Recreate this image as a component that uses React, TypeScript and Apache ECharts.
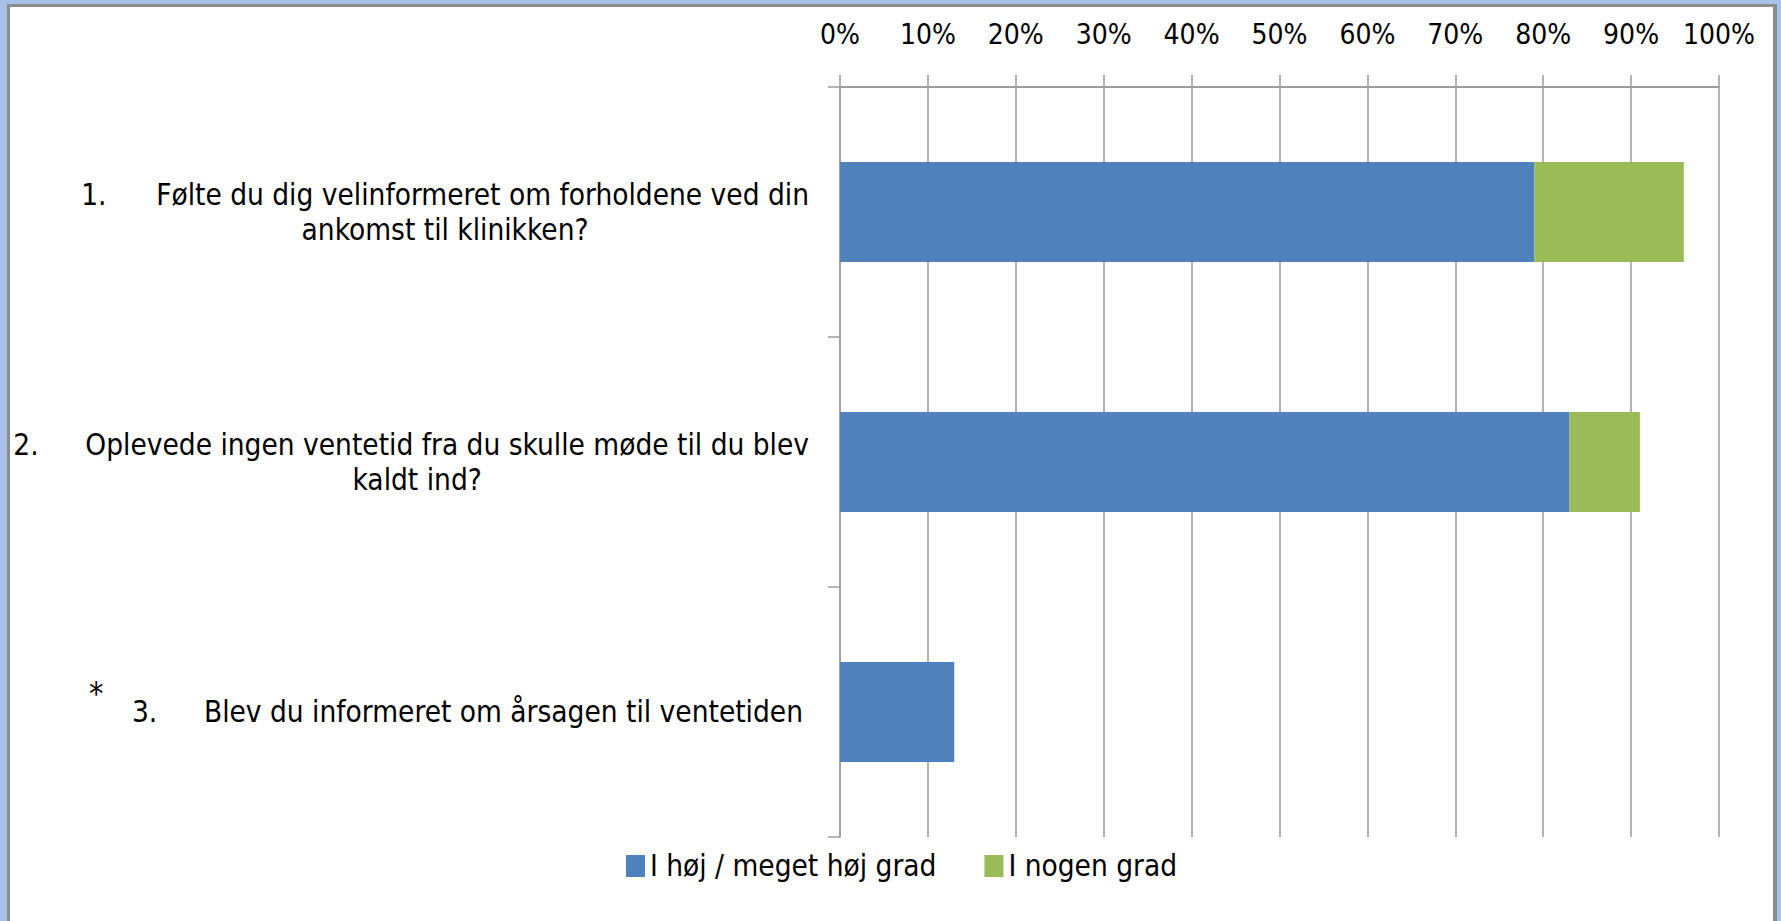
import React, { useEffect, useRef } from "react";
import * as echarts from "echarts";

const categories = [
  "1.\tFølte du dig velinformeret om forholdene ved din\nankomst til klinikken?",
  "2.\tOplevede ingen ventetid fra du skulle møde til du blev\nkaldt ind?",
  "3.\tBlev du informeret om årsagen til ventetiden",
];
const seriesNames = ["I høj / meget høj grad", "I nogen grad"];
const highValues = [79, 83, 13];
const someValues = [17, 8, 0];

const FONT = "'DejaVu Sans Condensed', 'Liberation Sans Narrow', sans-serif";
const GRID_COLOR = "#9c9c9c";

export default function App() {
  const ref = useRef<HTMLDivElement>(null);

  useEffect(() => {
    if (!ref.current) return;
    const chart = echarts.init(ref.current, undefined, { renderer: "svg" });
    const base = { fontFamily: FONT, fontSize: 29.5, color: "#000", lineHeight: 35 };
    chart.setOption({
      animation: false,
      backgroundColor: "transparent",
      grid: {
        left: 840,
        right: 62,
        top: 87,
        bottom: 84,
        containLabel: false,
        outerBoundsMode: "none",
      },
      legend: {
        data: seriesNames,
        left: 621,
        top: 843,
        icon: "rect",
        itemWidth: 19,
        itemHeight: 22,
        itemGap: 48,
        textStyle: { fontFamily: FONT, fontSize: 29.5, color: "#000", lineHeight: 36 },
      },
      xAxis: {
        type: "value",
        position: "top",
        min: 0,
        max: 100,
        interval: 10,
        axisLine: { show: true, lineStyle: { color: GRID_COLOR, width: 2 } },
        axisTick: { show: true, length: 12, lineStyle: { color: GRID_COLOR, width: 1.5 } },
        splitLine: { show: true, lineStyle: { color: GRID_COLOR, width: 1.5 } },
        axisLabel: {
          formatter: "{value}%",
          fontFamily: FONT,
          fontSize: 28,
          color: "#000",
          margin: 39,
          showMaxLabel: true,
          showMinLabel: true,
          hideOverlap: false,
        },
      },
      yAxis: {
        type: "category",
        data: categories,
        inverse: true,
        axisLine: { show: true, lineStyle: { color: GRID_COLOR, width: 1.5 } },
        axisTick: { show: true, length: 12, lineStyle: { color: GRID_COLOR, width: 1.5 } },
        splitLine: { show: false },
        axisLabel: {
          margin: 31,
          align: "right",
          fontFamily: FONT,
          fontSize: 29.5,
          color: "#000",
          lineHeight: 35,
          formatter: (value: string, idx: number) => {
            const [first, second] = value.split("\n");
            const [num, text] = first.split("\t");
            const k = idx + 1;
            let s = `{n${k}|${num}}{t${k}|${text}}`;
            if (second) s += `\n{c${k}|${second}}`;
            return s;
          },
          rich: {
            n1: { ...base, width: 75, align: "left" },
            n2: { ...base, width: 72, align: "left" },
            n3: { ...base, width: 72, align: "left" },
            t1: { ...base, align: "right" },
            t2: { ...base, align: "right" },
            t3: { ...base, align: "right", padding: [0, 6, 0, 0] },
            c1: { ...base, align: "center", padding: [0, 0, 0, 0] },
            c2: { ...base, align: "center", padding: [0, 0, 0, 12] },
          },
        },
      },
      series: [
        {
          name: seriesNames[0],
          type: "bar",
          stack: "total",
          barWidth: "40%",
          data: highValues,
          itemStyle: { color: "#4F81BD" },
        },
        {
          name: seriesNames[1],
          type: "bar",
          stack: "total",
          barWidth: "40%",
          data: someValues,
          itemStyle: { color: "#9BBB59" },
        },
      ],
      graphic: [
        {
          type: "text",
          left: 89,
          top: 677,
          style: { text: "*", font: `32px ${FONT}`, fill: "#000" },
        },
      ],
    });
    return () => chart.dispose();
  }, []);

  const strip = (s: React.CSSProperties) => (
    <div style={{ position: "absolute", ...s }} />
  );

  return (
    <div
      style={{
        position: "fixed",
        left: 0,
        top: 0,
        width: 1781,
        height: 921,
        background: "#ffffff",
        overflow: "hidden",
      }}
    >
      {strip({ left: 0, top: 0, width: 1781, height: 4, background: "#A9C1E8" })}
      {strip({ left: 0, top: 0, width: 7, height: 921, background: "#A9C1E8" })}
      {strip({ left: 1777, top: 0, width: 4, height: 921, background: "#A9C1E8" })}
      {strip({ left: 7, top: 4, width: 1770, height: 3, background: "#8C8C8C" })}
      {strip({ left: 7, top: 4, width: 3, height: 917, background: "#8C8C8C" })}
      {strip({ left: 1773, top: 4, width: 4, height: 917, background: "#8C8C8C" })}
      <div
        ref={ref}
        style={{ position: "absolute", left: 0, top: 0, width: 1781, height: 921 }}
      />
    </div>
  );
}
